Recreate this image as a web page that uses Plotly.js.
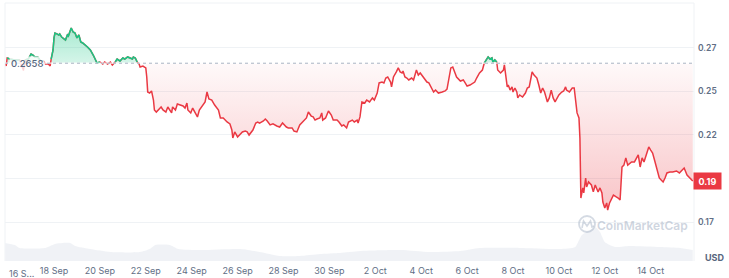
<!DOCTYPE html>
<html><head><meta charset="utf-8">
<script src="https://cdn.plot.ly/plotly-3.0.1.min.js"></script>
<style>html,body{margin:0;padding:0;background:#fff}#chart{width:729px;height:278px}</style>
</head><body><div id="chart"></div>
<script>
// hours after 2025-09-16 00:00 UTC
const startDate = '2025-09-16T00:00:00Z';
const priceHours = [
 -3,-2,-1,2,7,12,16,18,21,24,26,28,31,34,37,39,42,44,45,47,48,49,51,53,54,56,60,62,63,65,66,68,70,72,74,76,78,83,86,89,91,93,96,99,101,104,107,109,112,114,117,120,122,125,130,131,133,135,137,
 138,141,144,145,146,148,150,152,153,155,157,160,162,165,167,169,171,172,175,177,180,183,185,187,188,191,193,195,198,200,203,206,208,210,213,216,220,222,225,229,232,234,235,237,240,245,248,
 250,252,254,256,259,261,263,267,269,271,274,277,281,284,287,291,293,297,299,302,305,308,312,314,317,319,321,323,326,328,329,332,335,338,340,344,346,349,351,354,356,360,362,365,366,368,
 370,373,375,378,381,383,385,386,388,391,393,395,397,400,401,403,406,408,410,412,413,415,417,419,422,424,427,429,431,434,436,438,440,443,445,447,450,454,457,459,461,463,465,467,469,473,476,478,480,483,486,488,490,492,493,
 496,498,500,502,504,506,507,509,511,512,515,518,519,520,522,523,525,527,528,530,532,533,535,538,541,543,545,547,548,550,553,555,557,559,561,564,566,568,570,572,574,576,579,581,583,584,587,590,592,594,595,597,598,599,601,602,604,605,607,
 610,612,614,617,619,621,622,624,626,627,629,632,633,636,638,640,642,644,646,648,650,652,655,658,659,661,663,665,668,670,672,674,676,679,681,683,685,687,689,692,695,699,702,705,707,710,713,716
];
const priceValues = [
 0.2659,0.2642,0.2688,0.2682,0.2677,0.2677,0.2619,0.2677,0.2682,0.2711,0.2705,0.2694,0.2694,0.2671,0.2671,0.2653,0.2653,0.2642,0.2682,0.2734,0.2803,0.2831,0.2826,0.2820,0.2826,0.2808,0.2791,0.2820,0.2814,0.2849,0.2860,0.2837,0.2831,0.2803,0.2820,0.2780,0.2774,0.2751,0.2734,0.2705,0.2677,0.2659,0.2665,0.2653,0.2665,0.2653,0.2665,0.2648,0.2665,0.2682,0.2671,0.2688,0.2682,0.2694,0.2682,0.2694,0.2688,0.2665,0.2653,
 0.2636,0.2642,0.2631,0.2579,0.2493,0.2487,0.2499,0.2447,0.2390,0.2378,0.2390,0.2407,0.2390,0.2378,0.2407,0.2390,0.2373,0.2407,0.2390,0.2424,0.2418,0.2413,0.2401,0.2430,0.2390,0.2373,0.2401,0.2378,0.2350,0.2390,0.2413,0.2436,0.2493,0.2453,0.2447,0.2418,0.2390,0.2344,0.2344,0.2321,0.2310,0.2275,0.2229,0.2264,0.2235,0.2264,0.2269,
 0.2264,0.2246,0.2264,0.2275,0.2315,0.2321,0.2315,0.2327,0.2338,0.2327,0.2304,0.2310,0.2298,0.2292,0.2315,0.2292,0.2287,0.2287,0.2269,0.2264,0.2304,0.2321,0.2344,0.2378,0.2355,0.2350,0.2332,0.2338,0.2344,0.2373,0.2332,0.2344,0.2384,0.2361,0.2332,0.2332,0.2321,0.2298,0.2304,0.2287,0.2321,0.2332,0.2321,0.2332,0.2315,0.2350,
 0.2436,0.2430,0.2447,0.2436,0.2459,0.2447,0.2476,0.2487,0.2545,0.2550,0.2545,0.2573,0.2579,0.2550,0.2522,0.2579,0.2608,0.2631,0.2608,0.2602,0.2613,0.2579,0.2573,0.2562,0.2573,0.2562,0.2619,0.2590,0.2602,0.2579,0.2562,0.2550,0.2545,0.2516,0.2493,0.2504,0.2487,0.2493,0.2499,0.2510,0.2562,0.2631,0.2636,0.2608,0.2579,0.2556,0.2562,0.2545,0.2527,0.2533,0.2545,0.2550,0.2573,0.2590,0.2602,
 0.2619,0.2659,0.2677,0.2694,0.2682,0.2688,0.2665,0.2677,0.2665,0.2619,0.2602,0.2619,0.2648,0.2602,0.2522,0.2533,0.2504,0.2522,0.2493,0.2516,0.2493,0.2459,0.2476,0.2464,0.2487,0.2516,0.2522,0.2579,0.2608,0.2590,0.2573,0.2533,0.2487,0.2516,0.2493,0.2436,0.2459,0.2504,0.2459,0.2436,0.2459,0.2476,0.2493,0.2499,0.2522,0.2504,0.2493,0.2516,0.2516,0.2401,0.2373,0.2344,0.2229,0.1885,0.1943,0.1914,0.2000,0.1948,0.1977,
 0.1960,0.1920,0.1960,0.1920,0.1943,0.1914,0.1862,0.1828,0.1857,0.1816,0.1857,0.1885,0.1902,0.1891,0.1885,0.1874,0.2063,0.2074,0.2115,0.2074,0.2086,0.2092,0.2092,0.2120,0.2132,0.2063,0.2115,0.2092,0.2143,0.2178,0.2160,0.2143,0.2103,0.2046,0.2000,0.1988,0.1977,0.2000,0.2029,0.2034,0.2034,0.2040,0.2029,0.2046,0.2057,0.2017,0.2000,0.1983
];
const volumeHours  = [-3,7,12,39,44,49,65,70,86,107,138,148,154,169,178,201,243,263,284,305,326,347,368,410,441,473,493,535,577,593,600,609,614,619,624,635,650,682,703,716];
const volumeValues = [18,16,13,13,15,17,18,15,12,9,9,12,16,16,12,11,12,9,5,5,7,8,10,11,9,10,13,13,12,14,26,31,34,29,19,14,15,14,13,11];
const openPrice = 0.2658;
const openPriceLabel = '0.2658';
const lastPriceLabel = '0.19';
const xTickDates  = ['2025-09-18','2025-09-20','2025-09-22','2025-09-24','2025-09-26','2025-09-28','2025-09-30','2025-10-02','2025-10-04','2025-10-06','2025-10-08','2025-10-10','2025-10-12','2025-10-14'];
const xTickLabels = ['18 Sep','20 Sep','22 Sep','24 Sep','26 Sep','28 Sep','30 Sep','2 Oct','4 Oct','6 Oct','8 Oct','10 Oct','12 Oct','14 Oct'];
const firstTickLabel = '16 S...';
const yTickValues = [0.1747,0.1997,0.2247,0.2497,0.2747];
const yTickLabels = ['0.17','','0.22','0.25','0.27'];

const RED = '#ea3943', GREEN = '#16c784';
function toDate(h){ const d = new Date(Date.parse(startDate) + h*3600000); return d.toISOString().slice(0,16).replace('T',' '); }
const px = priceHours.map(toDate);
const vx = volumeHours.map(toDate);
const baseLine = priceValues.map(() => openPrice);
const above = priceValues.map(v => Math.max(v, openPrice));
const below = priceValues.map(v => Math.min(v, openPrice));
const greenY = priceValues.map(v => v >= openPrice ? v : null);
const lastPrice = priceValues[priceValues.length-1];

const traces = [
 {x: vx, y: volumeValues, yaxis:'y2', type:'scatter', mode:'lines', line:{width:0, shape:'spline', smoothing:0.6}, fill:'tozeroy', fillcolor:'rgba(205,212,226,0.30)', hoverinfo:'skip'},
 {x: px, y: baseLine, type:'scatter', mode:'lines', line:{width:0}, hoverinfo:'skip'},
 {x: px, y: above, type:'scatter', mode:'lines', line:{width:0}, fill:'tonexty',
  fillgradient:{type:'vertical', start: openPrice, stop: 0.287, colorscale:[[0,'rgba(22,199,132,0.18)'],[1,'rgba(22,199,132,0.38)']]}, fillcolor:'rgba(22,199,132,0.28)', hoverinfo:'skip'},
 {x: px, y: baseLine, type:'scatter', mode:'lines', line:{width:0}, hoverinfo:'skip'},
 {x: px, y: below, type:'scatter', mode:'lines', line:{width:0}, fill:'tonexty',
  fillgradient:{type:'vertical', start: 0.18, stop: openPrice, colorscale:[[0,'rgba(234,57,67,0.30)'],[1,'rgba(234,57,67,0.03)']]}, fillcolor:'rgba(234,57,67,0.1)', hoverinfo:'skip'},
 {x: px, y: priceValues, type:'scatter', mode:'lines', line:{color:RED, width:1.5}, hoverinfo:'skip'},
 {x: px, y: greenY, type:'scatter', mode:'lines', line:{color:GREEN, width:1.5}, connectgaps:false, hoverinfo:'skip'}
];

const toPX = p => (p-5)/689, toPY = p => (261-p)/258;
const layout = {
 width:729, height:278, margin:{l:5, r:35, t:3, b:17},
 paper_bgcolor:'#fff', plot_bgcolor:'#fff', showlegend:false,
 font:{family:'Inter, Roboto, sans-serif', color:'#616e85'},
 xaxis:{type:'date', range:['2025-09-15 20:45','2025-10-15 21:18'], tickvals:xTickDates, ticktext:xTickLabels,
   showgrid:false, zeroline:false, showline:false, ticks:'', ticklabelstandoff:3, tickfont:{size:9, color:'#616e85'}, fixedrange:true},
 yaxis:{side:'right', range:[0.15239,0.30033], tickvals:yTickValues, ticktext:yTickLabels, showgrid:true, gridcolor:'#eff2f5', gridwidth:1,
   zeroline:false, showline:false, ticks:'', ticklabelstandoff:3, tickfont:{size:8.5, color:'#616e85', weight:600}, fixedrange:true},
 yaxis2:{overlaying:'y', range:[0,258], visible:false, fixedrange:true},
 shapes:[
  {type:'line', xref:'paper', yref:'y', x0:0, x1:1, y0:openPrice, y1:openPrice, line:{color:'rgba(255,255,255,0.85)', width:1.2}},
  {type:'line', xref:'paper', yref:'y', x0:0, x1:1, y0:openPrice, y1:openPrice, line:{color:'#aab3c2', width:1, dash:'dot'}},
  {type:'line', xref:'paper', yref:'paper', x0:0, x1:0, y0:0, y1:1, line:{color:'#eff2f5', width:1}},
  {type:'line', xref:'paper', yref:'paper', x0:1, x1:1, y0:0, y1:1, line:{color:'#eff2f5', width:1}},
  {type:'line', xref:'paper', yref:'paper', x0:0, x1:1, y0:1, y1:1, line:{color:'#eff2f5', width:1}},
  {type:'circle', xref:'paper', yref:'paper', x0:toPX(579), x1:toPX(595), y0:toPY(232), y1:toPY(216), line:{color:'rgba(160,172,192,0.45)', width:1.8}},
  {type:'path', xref:'paper', yref:'paper', path:`M ${toPX(582)} ${toPY(228)} L ${toPX(583.5)} ${toPY(221)} L ${toPX(587)} ${toPY(226)} L ${toPX(590.5)} ${toPY(221)} L ${toPX(592)} ${toPY(227)} L ${toPX(594)} ${toPY(226)}`, line:{color:'rgba(160,172,192,0.45)', width:1.6}}
 ],
 annotations:[
  {xref:'paper', yref:'y', x:0, xanchor:'left', xshift:4, y:openPrice, yanchor:'middle', text:openPriceLabel, showarrow:false,
   font:{size:9.5, color:'#58667e', weight:500}, bgcolor:'rgba(255,255,255,0.78)', borderpad:1},
  {xref:'paper', yref:'y', x:1, xanchor:'left', xshift:-1, y:lastPrice, yanchor:'middle', text:lastPriceLabel, showarrow:false,
   font:{size:9, color:'#fff', weight:700}, bgcolor:RED, width:23, height:12, borderpad:2},
  {xref:'paper', yref:'paper', x:1, xanchor:'left', xshift:9, y:0, yanchor:'middle', yshift:4, text:'USD', showarrow:false,
   font:{size:9, color:'#58667e', weight:700}},
  {xref:'paper', yref:'paper', x:0, xanchor:'left', xshift:2, y:0, yanchor:'top', yshift:-5, text:firstTickLabel, showarrow:false,
   font:{size:9, color:'#616e85'}},
  {xref:'paper', yref:'paper', x:toPX(642.5), xanchor:'center', y:toPY(225), yanchor:'middle', text:'CoinMarketCap', showarrow:false,
   font:{size:12, color:'rgba(160,172,192,0.5)', weight:600}}
 ]
};
Plotly.newPlot('chart', traces, layout, {displayModeBar:false, staticPlot:true});
</script></body></html>
